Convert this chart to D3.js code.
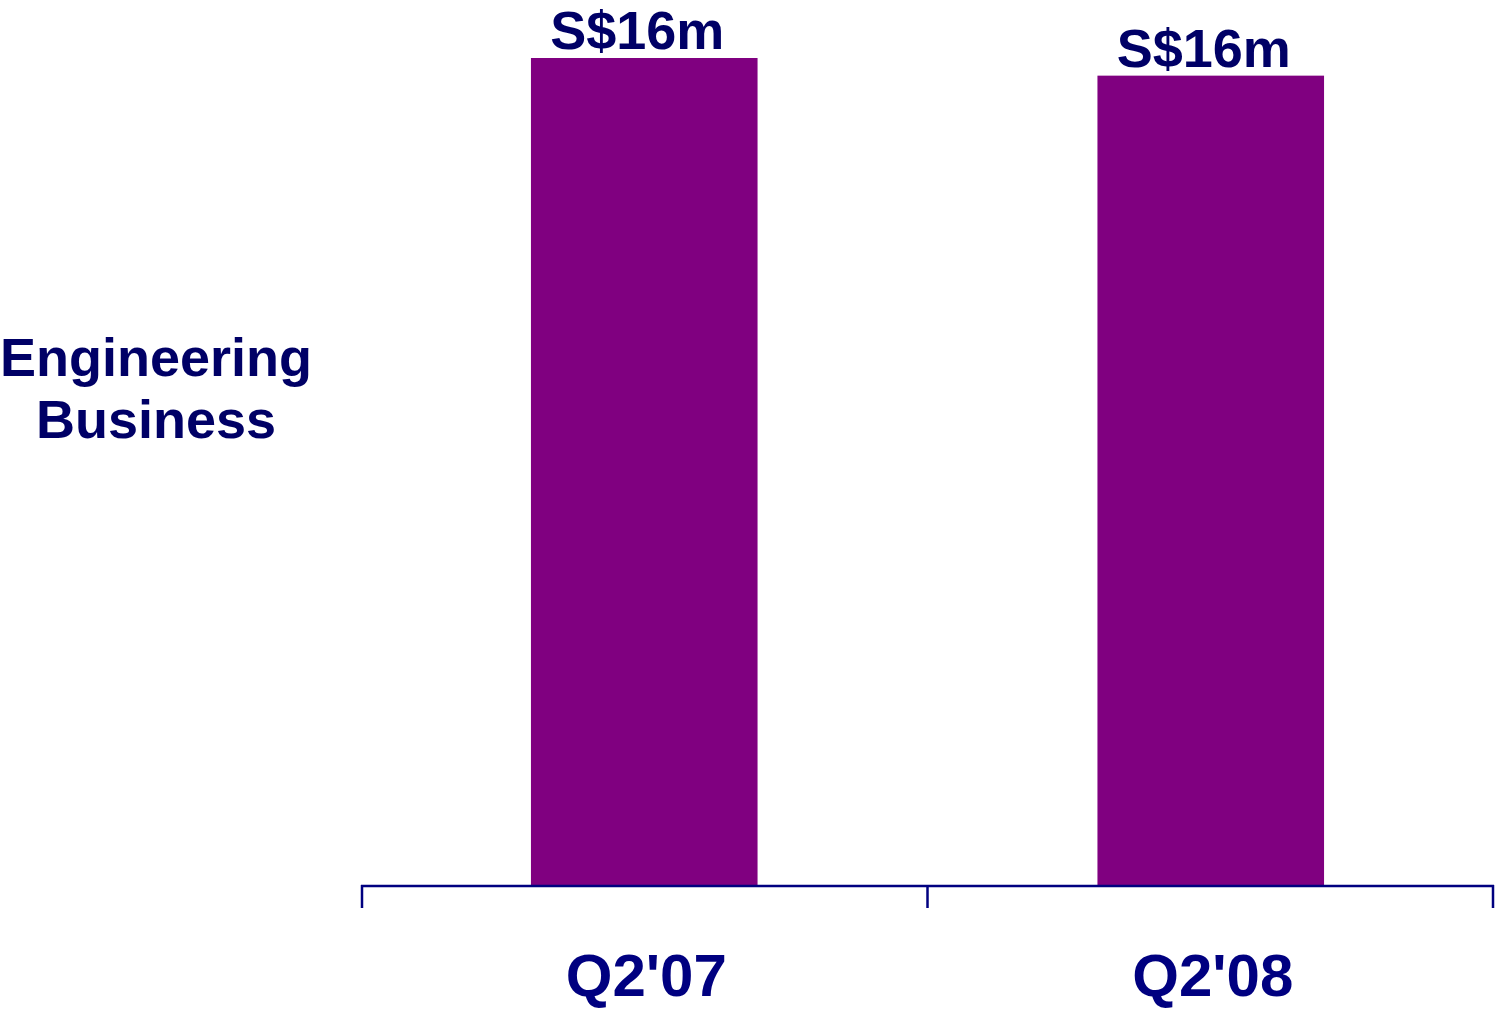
<!DOCTYPE html>
<html>
<head>
<meta charset="utf-8">
<script src="https://cdn.jsdelivr.net/npm/d3@7"></script>
<style>
  html, body { margin: 0; padding: 0; background: #fff; }
  text { font-family: "Liberation Sans", Arial, sans-serif; font-weight: bold; }
</style>
</head>
<body>
<svg id="chart"></svg>
<script>
// Data
const categories = ["Q2'07", "Q2'08"];
const values = [16.4, 16.05];
const valueLabels = ["S$16m", "S$16m"];
const yLabelLines = ["Engineering", "Business"];

// Dimensions
const svgWidth = 1496;
const svgHeight = 1010;
const margin = { top: 58, right: 2, bottom: 125, left: 361 };
const axisY = svgHeight - margin.bottom;

const svg = d3.select("#chart")
  .attr("width", svgWidth)
  .attr("height", svgHeight);

// Scales
const x = d3.scaleBand()
  .domain(categories)
  .range([margin.left, svgWidth - margin.right])
  .paddingInner(0.6)
  .paddingOuter(0.3);

const y = d3.scaleLinear()
  .domain([0, d3.max(values)])
  .range([axisY, margin.top]);

const data = categories.map((c, i) => ({ cat: c, value: values[i], label: valueLabels[i] }));

// Bars
svg.selectAll(".bar")
  .data(data)
  .enter()
  .append("rect")
  .attr("class", "bar")
  .attr("x", d => x(d.cat))
  .attr("y", d => y(d.value))
  .attr("width", x.bandwidth())
  .attr("height", d => y(0) - y(d.value))
  .attr("fill", "#800080");

// Value labels
svg.selectAll(".value-label")
  .data(data)
  .enter()
  .append("text")
  .attr("class", "value-label")
  .attr("x", d => x(d.cat) + x.bandwidth() / 2 - 7)
  .attr("y", d => y(d.value) - 9)
  .attr("text-anchor", "middle")
  .attr("font-size", 54)
  .attr("fill", "#000066")
  .text(d => d.label);

// Axis line with ticks at category boundaries
const step = x.step();
const bounds = d3.range(categories.length + 1).map(i => margin.left + i * step);
svg.append("line")
  .attr("x1", bounds[0])
  .attr("x2", bounds[bounds.length - 1])
  .attr("y1", axisY + 1)
  .attr("y2", axisY + 1)
  .attr("stroke", "#000080")
  .attr("stroke-width", 2.5);

svg.selectAll(".tick")
  .data(bounds)
  .enter()
  .append("line")
  .attr("class", "tick")
  .attr("x1", d => Math.min(Math.max(d, 362), svgWidth - 3))
  .attr("x2", d => Math.min(Math.max(d, 362), svgWidth - 3))
  .attr("y1", axisY)
  .attr("y2", axisY + 23)
  .attr("stroke", "#000080")
  .attr("stroke-width", 2.5);

// Category labels
svg.selectAll(".cat-label")
  .data(categories)
  .enter()
  .append("text")
  .attr("class", "cat-label")
  .attr("x", d => x(d) + x.bandwidth() / 2 + 2)
  .attr("y", axisY + 111)
  .attr("text-anchor", "middle")
  .attr("font-size", 60)
  .attr("fill", "#000080")
  .text(d => d);

// Left label
svg.append("text")
  .attr("x", 156)
  .attr("y", 376)
  .attr("text-anchor", "middle")
  .attr("font-size", 54)
  .attr("fill", "#000066")
  .selectAll("tspan")
  .data(yLabelLines)
  .enter()
  .append("tspan")
  .attr("x", 156)
  .attr("dy", (d, i) => (i === 0 ? 0 : 62))
  .text(d => d);
</script>
</body>
</html>
